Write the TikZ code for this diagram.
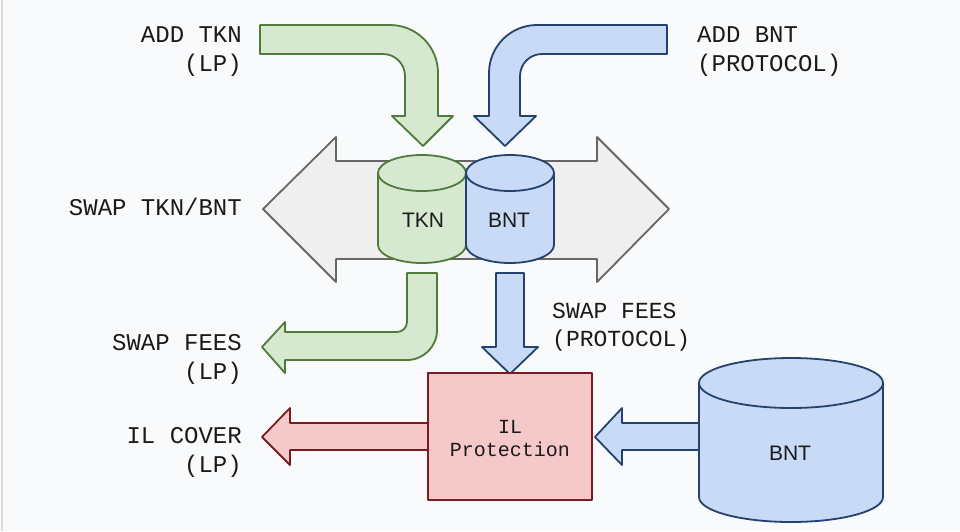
\documentclass[tikz,border=0pt]{standalone}
\usepackage{fontspec}
\setmainfont{Liberation Sans}
\newfontfamily\monofont{Liberation Mono}
\definecolor{gfill}{HTML}{D6E9D0}
\definecolor{gline}{HTML}{4F7A3A}
\definecolor{bfill}{HTML}{C8DAF5}
\definecolor{bline}{HTML}{24426E}
\definecolor{rfill}{HTML}{F5C9C9}
\definecolor{rline}{HTML}{7A1A22}
\definecolor{kfill}{HTML}{EFEFEF}
\definecolor{kline}{HTML}{666666}
\definecolor{txt}{HTML}{1A1A1A}
\definecolor{bg}{HTML}{F9FAFC}
\begin{document}
\begin{tikzpicture}[x=1pt,y=-1pt,
  shp/.style={line width=1.8pt, line join=round},
  gshape/.style={shp, fill=gfill, draw=gline},
  bshape/.style={shp, fill=bfill, draw=bline},
  rshape/.style={shp, fill=rfill, draw=rline},
  kshape/.style={shp, fill=kfill, draw=kline},
  lbl/.style={inner sep=0pt, text=txt, font={\monofont\fontsize{24}{29}\selectfont}},
  sublbl/.style={inner sep=0pt, text=txt, font={\monofont\fontsize{23}{28}\selectfont}},
  cyltxt/.style={inner sep=0pt, text=txt, font={\fontsize{21}{25}\selectfont}},
  boxtxt/.style={inner sep=0pt, text=txt, font={\monofont\fontsize{20}{23}\selectfont}, align=center}
]
\useasboundingbox (0,0) rectangle (960,531);
\fill[bg] (0,0) rectangle (960,531);
\draw[line width=2pt, draw={rgb,255:red,217;green,217;blue,217}] (1.5,0) -- (1.5,531);

% big gray double arrow
\draw[kshape] (263,209) -- (336,137) -- (336,161) -- (597,161) -- (597,137) -- (669,209)
  -- (597,282) -- (597,259) -- (336,259) -- (336,282) -- cycle;

% ADD TKN arrow (green, bent)
\draw[gshape] (260,25) -- (390,25) arc[start angle=-90, end angle=0, radius=48]
  -- (438,116) -- (453,116) -- (423,146) -- (392,116) -- (405,116) -- (405,76)
  arc[start angle=0, end angle=-90, radius=22] -- (260,54) -- cycle;

% ADD BNT arrow (blue, bent)
\draw[bshape] (667,25) -- (537,25) arc[start angle=-90, end angle=-180, radius=48]
  -- (489,116) -- (474,116) -- (505,146) -- (536,116) -- (520,116) -- (520,76)
  arc[start angle=180, end angle=270, radius=22] -- (667,54) -- cycle;

% TKN cylinder
\draw[gshape] (378,173) -- (378,245) arc[start angle=180, end angle=0, x radius=44, y radius=18]
  -- (466,173) arc[start angle=0, end angle=-180, x radius=44, y radius=18] -- cycle;
\draw[shp, draw=gline] (378,173) arc[start angle=180, end angle=0, x radius=44, y radius=18];
\node[cyltxt] (tkn) at (423,220) {TKN};

% BNT cylinder
\draw[bshape] (466,173) -- (466,245) arc[start angle=180, end angle=0, x radius=44, y radius=18]
  -- (554,173) arc[start angle=0, end angle=-180, x radius=44, y radius=18] -- cycle;
\draw[shp, draw=bline] (466,173) arc[start angle=180, end angle=0, x radius=44, y radius=18];
\node[cyltxt] (bnt) at (509,220) {BNT};

% SWAP FEES (LP) arrow (green, down then left)
\draw[gshape] (407,273) -- (437,273) -- (437,330) arc[start angle=0, end angle=90, radius=30]
  -- (285,360) -- (285,373) -- (262,347) -- (285,322) -- (285,332) -- (397,332)
  arc[start angle=90, end angle=0, radius=10] -- cycle;

% SWAP FEES (PROTOCOL) arrow (blue, down)
\draw[bshape] (496,273) -- (524,273) -- (524,347) -- (538,347) -- (510,374) -- (482,347)
  -- (496,347) -- cycle;

% IL Protection box
\draw[rshape] (428,373) rectangle (592,500);
\node[boxtxt] (ilp) at (510,438) {IL\\Protection};

% IL COVER arrow (red, left)
\draw[rshape] (428,423) -- (290,423) -- (290,408) -- (262,437) -- (290,465) -- (290,450)
  -- (428,450) -- cycle;

% big BNT cylinder
\draw[bshape] (699,383) -- (699,497) arc[start angle=180, end angle=0, x radius=92, y radius=25]
  -- (883,383) arc[start angle=0, end angle=-180, x radius=92, y radius=25] -- cycle;
\draw[shp, draw=bline] (699,383) arc[start angle=180, end angle=0, x radius=92, y radius=25];
\node[cyltxt] (bigbnt) at (790,453) {BNT};

% blue arrow from BNT to IL Protection
\draw[bshape] (699,423) -- (622,423) -- (622,408) -- (595,437) -- (622,465) -- (622,450)
  -- (699,450) -- cycle;

% labels
\node[lbl, anchor=east, align=right] (addtkn) at (242,52) {ADD TKN\\(LP)};
\node[lbl, anchor=west, align=left] (addbnt) at (697,52) {ADD BNT\\(PROTOCOL)};
\node[lbl, anchor=east] (swap) at (242,207) {SWAP TKN/BNT};
\node[lbl, anchor=east, align=right] (feeslp) at (242,359) {SWAP FEES\\(LP)};
\node[lbl, anchor=east, align=right] (ilcover) at (242,452) {IL COVER\\(LP)};
\node[sublbl, anchor=west, align=left] (feesprot) at (552,327) {SWAP FEES\\(PROTOCOL)};
\end{tikzpicture}
\end{document}
